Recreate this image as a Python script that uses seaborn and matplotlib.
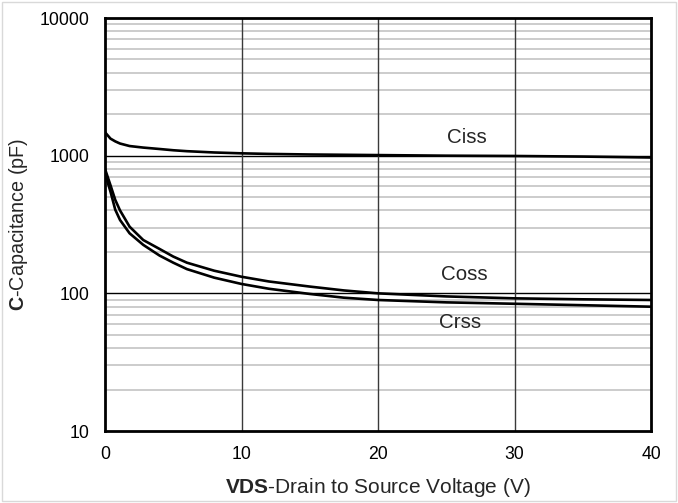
import matplotlib
matplotlib.use("Agg")
import matplotlib.pyplot as plt
import seaborn as sns
import pandas as pd
from matplotlib.ticker import FixedLocator, NullFormatter, FixedFormatter
from matplotlib.patches import Rectangle

# Drain-source voltage (V)
vds = [0, 0.4, 0.75, 1.1, 1.8, 2.8, 4, 5, 6, 8, 10, 12, 15, 17.5, 20, 25, 30, 35, 40]
# Capacitances (pF)
ciss = [1480, 1330, 1270, 1225, 1175, 1145, 1118, 1095, 1078, 1055, 1040, 1030, 1020, 1015, 1010, 1000, 995, 985, 970]
coss = [800, 610, 477, 400, 305, 244, 210, 185, 167, 146, 132, 122, 112, 105, 100, 95, 92, 90.5, 89.5]
crss = [740, 548, 405, 341, 273, 225, 188, 167, 150, 130, 117, 108, 99, 93, 89.5, 86, 84, 82, 80]

x_ticks = [0, 10, 20, 30, 40]
y_ticks = [10, 100, 1000, 10000]
y_tick_labels = ["10", "100", "1000", "10000"]

sns.set_style("white")
plt.rcParams["font.family"] = ["Liberation Sans", "DejaVu Sans"]
plt.rcParams["mathtext.fontset"] = "custom"
plt.rcParams["mathtext.rm"] = "Liberation Sans"
plt.rcParams["mathtext.bf"] = "Liberation Sans:bold"

df = pd.DataFrame({
    "VDS": vds * 3,
    "C": ciss + coss + crss,
    "curve": ["Ciss"] * len(vds) + ["Coss"] * len(vds) + ["Crss"] * len(vds),
})

fig = plt.figure(figsize=(6.78, 5.03), dpi=100)
ax = fig.add_axes([0.1549, 0.1431, 0.8053, 0.8211])

sns.lineplot(data=df, x="VDS", y="C", units="curve", estimator=None,
             color="black", linewidth=1.9, ax=ax, legend=False, zorder=5)

ax.set_yscale("log")
ax.set_xlim(0, 40)
ax.set_ylim(10, 10000)

# Grid: light gray minor decades, black major decades, dark vertical lines
minor_vals = [m * d for d in [10, 100, 1000] for m in range(2, 10)]
for v in minor_vals:
    ax.axhline(v, color="#c8c8c8", linewidth=1.3, zorder=1)
for v in [100, 1000]:
    ax.axhline(v, color="black", linewidth=1.0, zorder=2)
for v in [10, 20, 30]:
    ax.axvline(v, color="#3a3a3a", linewidth=1.0, zorder=2)

ax.yaxis.set_major_locator(FixedLocator(y_ticks))
ax.yaxis.set_major_formatter(FixedFormatter(y_tick_labels))
ax.yaxis.set_minor_locator(FixedLocator(minor_vals))
ax.yaxis.set_minor_formatter(NullFormatter())
ax.set_xticks(x_ticks)
ax.set_xticklabels([str(t) for t in x_ticks])
ax.tick_params(axis="both", which="both", length=0, labelsize=12.7, colors="black")
ax.tick_params(axis="y", pad=11)
ax.tick_params(axis="x", pad=11)

for s in ax.spines.values():
    s.set_visible(True)
    s.set_color("black")
    s.set_linewidth(2.0)
    s.set_zorder(6)

ax.set_xlabel(r"$\mathbf{VDS}$-Drain to Source Voltage (V)", fontsize=15, labelpad=9)
ax.set_ylabel(r"$\mathbf{C}$-Capacitance (pF)", fontsize=14.2, labelpad=7)

ax.text(26.5, 1360, "Ciss", fontsize=14.8, ha="center", va="center")
ax.text(26.3, 138, "Coss", fontsize=14.8, ha="center", va="center")
ax.text(26.0, 61, "Crss", fontsize=14.8, ha="center", va="center")

fig.patches.append(Rectangle((0.003, 0.004), 0.994, 0.992, transform=fig.transFigure,
                             fill=False, edgecolor="#d9d9d9", linewidth=1.0))

fig.savefig("out.png", dpi=100)
